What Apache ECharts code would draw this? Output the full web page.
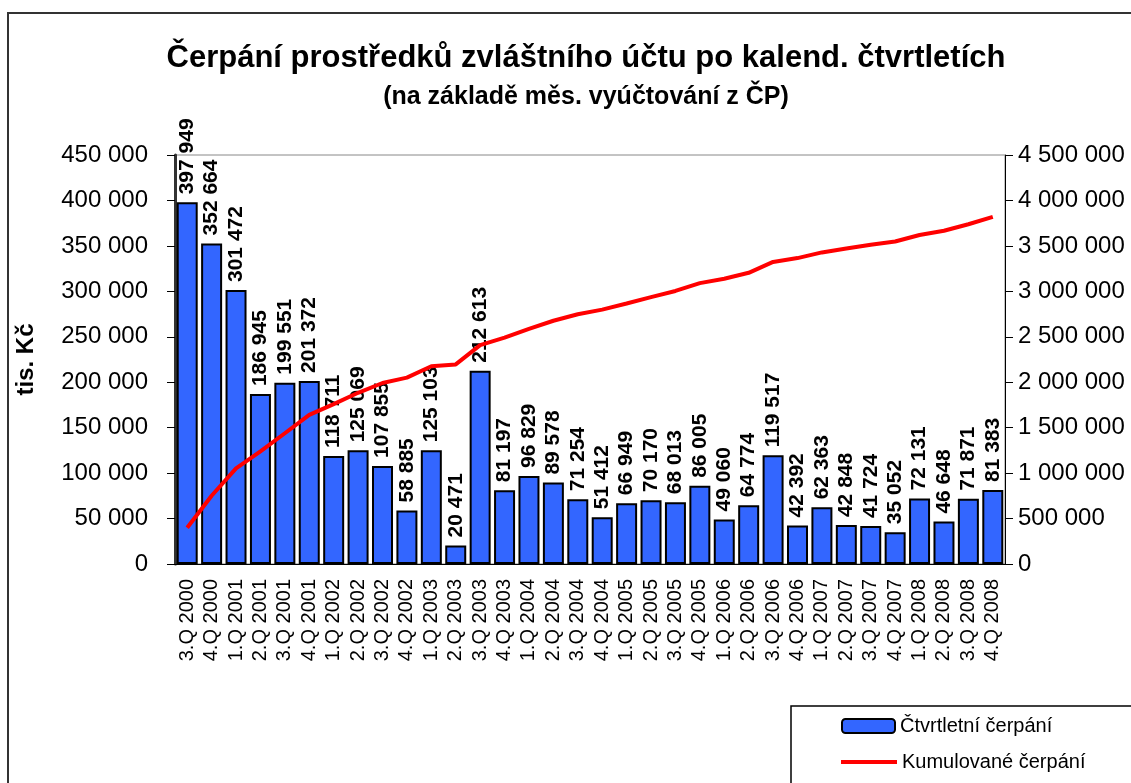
<!DOCTYPE html>
<html>
<head>
<meta charset="utf-8">
<script src="https://cdn.jsdelivr.net/npm/echarts@6/dist/echarts.min.js"></script>
<style>
  html, body { margin: 0; padding: 0; background: #fff; }
  #main { width: 1131px; height: 783px; }
</style>
</head>
<body>
<div id="main"></div>
<script>
// ctvrtleti
var categories = ['3.Q 2000','4.Q 2000',
  '1.Q 2001','2.Q 2001','3.Q 2001','4.Q 2001',
  '1.Q 2002','2.Q 2002','3.Q 2002','4.Q 2002',
  '1.Q 2003','2.Q 2003','3.Q 2003','4.Q 2003',
  '1.Q 2004','2.Q 2004','3.Q 2004','4.Q 2004',
  '1.Q 2005','2.Q 2005','3.Q 2005','4.Q 2005',
  '1.Q 2006','2.Q 2006','3.Q 2006','4.Q 2006',
  '1.Q 2007','2.Q 2007','3.Q 2007','4.Q 2007',
  '1.Q 2008','2.Q 2008','3.Q 2008','4.Q 2008'];

// ctvrtletni cerpani (tis. Kc)
var quarterly = [397949, 352664,
  301472, 186945, 199551, 201372,
  118711, 125069, 107855, 58885,
  125103, 20471, 212613, 81197,
  96829, 89578, 71254, 51412,
  66949, 70170, 68013, 86005,
  49060, 64774, 119517, 42392,
  62363, 42848, 41724, 35052,
  72131, 46648, 71871, 81383];

// kumulovane cerpani (prava osa)
var cumulative = [397949, 750613,
  1052085, 1239030, 1438581, 1639953,
  1758664, 1883733, 1991588, 2050473,
  2175576, 2196047, 2408660, 2489857,
  2586686, 2676264, 2747518, 2798930,
  2865879, 2936049, 3004062, 3090067,
  3139127, 3203901, 3323418, 3365810,
  3428173, 3471021, 3512745, 3547797,
  3619928, 3666576, 3738447, 3819830];

var FONT = 'Arial, "Liberation Sans", sans-serif';

function fmt(v) {
  return String(v).replace(/\B(?=(\d{3})+(?!\d))/g, ' ');
}

var chart = echarts.init(document.getElementById('main'));

var option = {
  backgroundColor: '#fff',
  animation: false,
  textStyle: { fontFamily: FONT },
  title: [
    {
      text: 'Čerpání prostředků zvláštního účtu po kalend. čtvrtletích',
      left: 581, top: 38, textAlign: 'center',
      textStyle: { fontSize: 31, fontWeight: 'bold', color: '#000', fontFamily: FONT }
    },
    {
      text: '(na základě měs. vyúčtování z ČP)',
      left: 581, top: 80, textAlign: 'center',
      textStyle: { fontSize: 25, fontWeight: 'bold', color: '#000', fontFamily: FONT }
    }
  ],
  legend: [
    {
      left: 841, top: 716, padding: 0,
      itemWidth: 53, itemHeight: 14,
      textStyle: { fontSize: 20, color: '#000', fontFamily: FONT },
      data: ['Čtvrtletní čerpání']
    },
    {
      left: 841, top: 752, padding: 0,
      itemWidth: 56, itemHeight: 4,
      textStyle: { fontSize: 20, color: '#000', fontFamily: FONT },
      data: [{ name: 'Kumulované čerpání', icon: 'rect' }]
    }
  ],
  graphic: [
    { type: 'rect', shape: { x: 8, y: 13, width: 1200, height: 800 },
      style: { fill: 'none', stroke: '#333', lineWidth: 2 }, z: -1 },
    { type: 'rect', shape: { x: 791, y: 706, width: 400, height: 100 },
      style: { fill: '#fff', stroke: '#000', lineWidth: 1.5 }, z: 0 }
  ],
  grid: {
    left: 175, right: 126, top: 155, bottom: 219,
    show: true, borderColor: '#888', borderWidth: 1
  },
  xAxis: {
    type: 'category',
    data: categories,
    axisLine: { lineStyle: { color: '#000', width: 1 } },
    axisTick: { length: 8, lineStyle: { color: '#000' } },
    axisLabel: {
      interval: 0, rotate: 90, margin: 15,
      fontSize: 20, color: '#000', fontFamily: FONT
    }
  },
  yAxis: [
    {
      type: 'value', min: 0, max: 450000, interval: 50000,
      name: 'tis. Kč', nameLocation: 'middle', nameGap: 137,
      nameTextStyle: { fontSize: 24, fontWeight: 'bold', color: '#000', fontFamily: FONT },
      axisLine: { show: true, lineStyle: { color: '#333', width: 3 } },
      axisTick: { show: true, length: 8, lineStyle: { color: '#000' } },
      splitLine: { show: false },
      axisLabel: { margin: 27, fontSize: 24, color: '#000', fontFamily: FONT, formatter: fmt }
    },
    {
      type: 'value', min: 0, max: 4500000, interval: 500000,
      position: 'right',
      axisLine: { show: true, lineStyle: { color: '#000', width: 1 } },
      axisTick: { show: true, length: 8, lineStyle: { color: '#000' } },
      splitLine: { show: false },
      axisLabel: { margin: 13, fontSize: 24, color: '#000', fontFamily: FONT, formatter: fmt }
    }
  ],
  series: [
    {
      name: 'Čtvrtletní čerpání',
      type: 'bar',
      data: quarterly,
      barCategoryGap: '14%',
      itemStyle: { color: '#3366FF', borderColor: '#000', borderWidth: 2 },
      label: {
        show: true, position: 'top', rotate: 90,
        align: 'left', verticalAlign: 'middle', distance: 8,
        fontSize: 21, fontWeight: 'bold', color: '#000', fontFamily: FONT,
        formatter: function (p) { return fmt(p.value); }
      },
      z: 2
    },
    {
      name: 'Kumulované čerpání',
      type: 'line',
      yAxisIndex: 1,
      data: cumulative,
      symbol: 'none',
      lineStyle: { color: '#FF0000', width: 4 },
      itemStyle: { color: '#FF0000' },
      z: 3
    }
  ]
};

chart.setOption(option);
</script>
</body>
</html>
